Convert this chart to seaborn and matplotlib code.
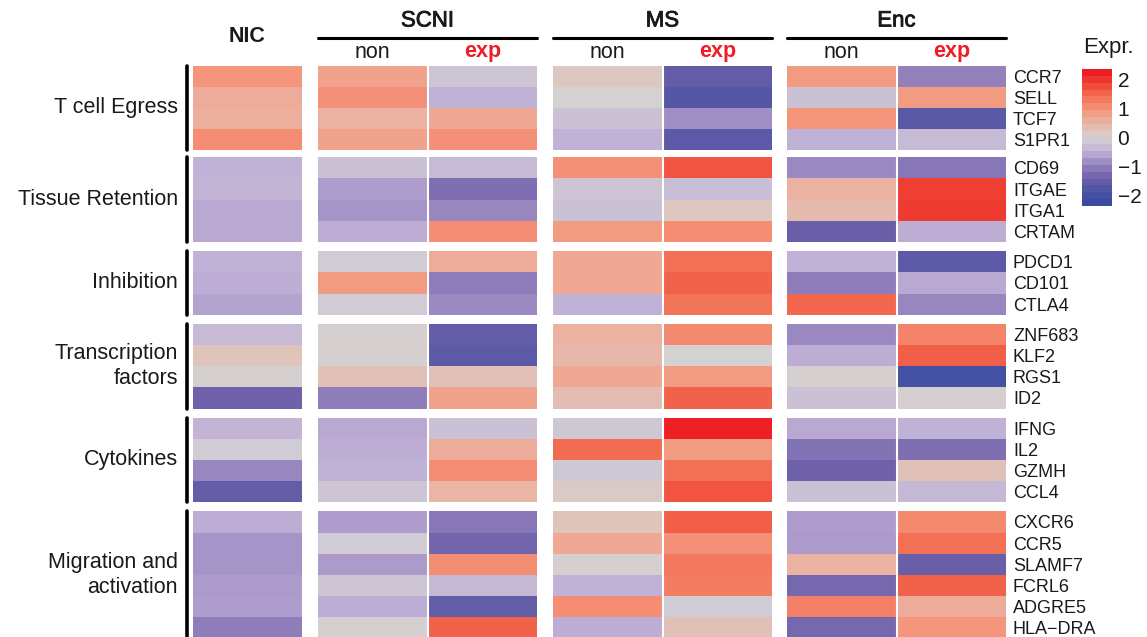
import numpy as np
import pandas as pd
import matplotlib
matplotlib.use("Agg")
import matplotlib.pyplot as plt
import matplotlib.patheffects as pe
from matplotlib.colors import LinearSegmentedColormap, Normalize
from matplotlib.lines import Line2D
import seaborn as sns

sns.set_theme(style="white")
plt.rcParams['font.family'] = ['Liberation Sans', 'DejaVu Sans']

# gene groups
groups = ["T cell Egress", "Tissue Retention", "Inhibition",
          "Transcription\nfactors", "Cytokines", "Migration and\nactivation"]
group_sizes = [4, 4, 3, 4, 4, 6]
genes = ["CCR7", "SELL", "TCF7", "S1PR1",
         "CD69", "ITGAE", "ITGA1", "CRTAM",
         "PDCD1", "CD101", "CTLA4",
         "ZNF683", "KLF2", "RGS1", "ID2",
         "IFNG", "IL2", "GZMH", "CCL4",
         "CXCR6", "CCR5", "SLAMF7", "FCRL6", "ADGRE5", "HLA\u2212DRA"]

# expression values (z-scores) per column
nic      = [1.0, 0.65, 0.6, 1.1,  -0.5, -0.45, -0.6, -0.6,  -0.5, -0.55, -0.65,
            -0.35, 0.25, 0.05, -1.45,  -0.45, -0.1, -0.95, -1.6,
            -0.55, -0.8, -0.8, -0.75, -0.7, -1.05]
scni_non = [0.8, 1.05, 0.55, 0.8,  -0.25, -0.7, -0.8, -0.55,  -0.1, 0.9, -0.1,
            0.05, 0.05, 0.3, -1.05,  -0.6, -0.55, -0.5, -0.2,
            -0.7, -0.1, -0.75, -0.2, -0.55, 0.05]
scni_exp = [-0.2, -0.5, 0.7, 1.05,  -0.35, -1.25, -0.95, 1.1,  0.65, -1.05, -0.9,
            -1.6, -1.7, 0.3, 0.8,  -0.25, 0.65, 1.1, 0.5,
            -1.15, -1.4, 1.1, -0.4, -1.6, 1.6]
ms_non   = [0.2, 0.0, -0.25, -0.5,  1.05, -0.2, -0.25, 0.9,  0.7, 0.7, -0.5,
            0.55, 0.45, 0.7, 0.35,  -0.15, 1.5, -0.15, 0.15,
            0.25, 0.7, 0.05, -0.5, 1.1, -0.55]
ms_exp   = [-1.6, -1.8, -0.85, -1.7,  1.75, -0.3, 0.2, 1.1,  1.45, 1.6, 1.4,
            1.15, 0.0, 0.9, 1.6,  2.3, 0.9, 1.45, 1.75,
            1.65, 1.05, 1.35, 1.3, -0.1, 0.3]
enc_non  = [0.9, -0.25, 1.0, -0.5,  -0.9, 0.55, 0.4, -1.5,  -0.5, -1.05, 1.55,
            -0.9, -0.55, 0.05, -0.25,  -0.6, -1.2, -1.45, -0.25,
            -0.7, -0.75, 0.55, -1.35, 1.25, -1.35]
enc_exp  = [-1.0, 0.9, -1.75, -0.35,  -1.15, 2.0, 2.05, -0.55,  -1.7, -0.6, -0.95,
            1.2, 1.65, -2.1, 0.05,  -0.5, -1.25, 0.3, -0.4,
            1.15, 1.45, -1.5, 1.6, 0.65, 1.0]

col_groups = ["NIC", "SCNI", "MS", "Enc"]

df = pd.DataFrame({
    ("NIC", ""): nic,
    ("SCNI", "non"): scni_non, ("SCNI", "exp"): scni_exp,
    ("MS", "non"): ms_non, ("MS", "exp"): ms_exp,
    ("Enc", "non"): enc_non, ("Enc", "exp"): enc_exp,
}, index=genes)

cmap = LinearSegmentedColormap.from_list("expr", [
    (0.00, "#3b4ba3"), (0.07, "#4753a3"), (0.18, "#6a5ea8"),
    (0.29, "#9482bd"), (0.39, "#c0b0d6"), (0.50, "#d4d2d3"),
    (0.61, "#eab4a4"), (0.71, "#f4967d"), (0.82, "#f26c51"),
    (0.93, "#ef3d32"), (1.00, "#ee1c25")])
vmin, vmax = -2.35, 2.35

W, H = 1147, 637
fig = plt.figure(figsize=(W / 100, H / 100), dpi=100)
txt = "#1a1a1a"
medium = [pe.withStroke(linewidth=0.6, foreground=txt)]

def px_axes(x0, x1, y0, y1):
    return fig.add_axes([x0 / W, 1 - y1 / H, (x1 - x0) / W, (y1 - y0) / H])

# layout in pixels
col_x = {"NIC": (193, 302), "SCNI": (318, 537), "MS": (553, 772), "Enc": (787, 1006)}
row_h = 21.2
gaps = [7, 9, 9, 9, 9]
tops = [65.5]
for i, g in enumerate(gaps):
    tops.append(tops[-1] + group_sizes[i] * row_h + g)

start = 0
for gi, (gname, n) in enumerate(zip(groups, group_sizes)):
    y0 = tops[gi]
    y1 = y0 + n * row_h
    block_genes = genes[start:start + n]
    for cg in col_groups:
        x0, x1 = col_x[cg]
        ax = px_axes(x0, x1, y0, y1)
        sub = df.loc[block_genes, cg]
        if isinstance(sub, pd.Series):
            sub = sub.to_frame()
        sns.heatmap(sub, ax=ax, cmap=cmap, vmin=vmin, vmax=vmax, cbar=False,
                    xticklabels=False, yticklabels=(cg == "Enc"))
        if sub.shape[1] == 2:
            ax.axvline(1, color="white", lw=1.5)
        ax.set_xlabel("")
        ax.set_ylabel("")
        if cg == "Enc":
            ax.yaxis.tick_right()
            ax.tick_params(axis="y", length=0, pad=5, labelsize=13,
                           labelcolor=txt, labelrotation=0)
            for t in ax.get_yticklabels():
                t.set_ha("left")
        else:
            ax.tick_params(left=False, labelleft=False)
    # group bar and label
    fig.add_artist(Line2D([186.5 / W, 186.5 / W], [1 - y0 / H, 1 - y1 / H],
                          color="black", lw=2.6, transform=fig.transFigure))
    fig.text(178 / W, 1 - (y0 + y1) / 2 / H, gname, ha="right", va="center",
             multialignment="right", fontsize=15.5, color=txt, linespacing=1.25)
    start += n

# column headers
fig.text((193 + 302) / 2 / W, 1 - 37 / H, "NIC", ha="center", va="center",
         fontsize=15.5, fontweight="bold", color=txt)
for cg in ["SCNI", "MS", "Enc"]:
    x0, x1 = col_x[cg]
    xm = (x0 + x1) / 2
    fig.text(xm / W, 1 - 21 / H, cg, ha="center", va="center",
             fontsize=16, color=txt, path_effects=medium)
    fig.add_artist(Line2D([x0 / W, x1 / W], [1 - 38 / H, 1 - 38 / H],
                          color="black", lw=2.2, transform=fig.transFigure))
    fig.text((x0 + xm) / 2 / W, 1 - 52 / H, "non", ha="center", va="center",
             fontsize=15.5, color=txt)
    fig.text((xm + x1) / 2 / W, 1 - 52 / H, "exp", ha="center", va="center",
             fontsize=15.5, fontweight="bold", color="#ee1c25")

# colour legend
cax = px_axes(1082, 1112, 69, 206)
sm = plt.cm.ScalarMappable(norm=Normalize(vmin, vmax), cmap=cmap.resampled(20))
cb = fig.colorbar(sm, cax=cax)
cb.outline.set_visible(False)
cb.set_ticks([-2, -1, 0, 1, 2])
cax.tick_params(axis="y", direction="in", color="white", length=5, width=1,
                left=True, right=True, labelsize=15, labelcolor=txt, pad=4)
fig.text(1083 / W, 1 - 47 / H, "Expr.", ha="left", va="center",
         fontsize=16, color=txt)

fig.savefig("out.png", dpi=100)
